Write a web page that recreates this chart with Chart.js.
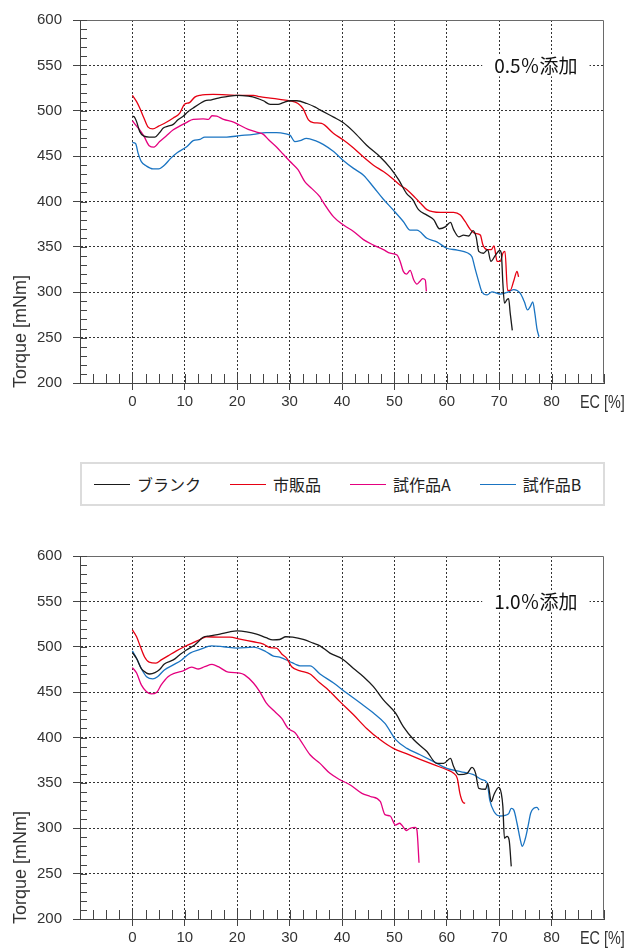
<!DOCTYPE html>
<html lang="ja">
<head>
<meta charset="utf-8">
<title>Torque vs EC</title>
<script src="https://cdn.jsdelivr.net/npm/chart.js@4.4.1/dist/chart.umd.min.js"></script>
<style>
html,body{margin:0;padding:0;background:#fff;}
body{width:628px;height:948px;position:relative;overflow:hidden;}
canvas{position:absolute;left:0;display:block;}
#c05{top:0;}
#c10{top:536px;}
#legend{position:absolute;left:80px;top:462px;width:525px;height:44px;box-sizing:border-box;
  border:2px solid #dcdcdc;display:flex;align-items:center;padding-left:12px;gap:29px;
  font-family:"Noto Sans CJK JP",sans-serif;font-size:16px;color:#222;}
.item{display:flex;align-items:center;white-space:nowrap;}
.swatch{width:36px;height:0;border-top:1.4px solid;margin-right:7px;}
</style>
</head>
<body>
<canvas id="c05" width="628" height="412"></canvas>
<div id="legend"></div>
<canvas id="c10" width="628" height="412"></canvas>
<script>
// Series names and colours
const seriesNames = ['ブランク', '市販品', '試作品A', '試作品B'];
const seriesColors = ['#1a1a1a', '#e60012', '#e4007f', '#1a74c2'];

// Axis settings
const xTicks = [0, 10, 20, 30, 40, 50, 60, 70, 80];
const yTicks = [200, 250, 300, 350, 400, 450, 500, 550, 600];

// 0.5% addition: [EC %, torque mNm]
const blank05 = [[0,494],[0.4,493],[0.8,488],[1.4,477],[2.2,472],[3.2,471],[4.3,471],[5.2,476],[5.9,481],[6.8,483],[7.8,485],[8.7,490],[9.7,494],[10.6,499],[11.6,503],[12.9,508],[13.8,511],[15.1,512],[16.4,514],[18,515.5],[20,517],[22.1,516],[23.7,514],[25,511],[26.3,507],[27.8,507],[28.8,509],[30.1,511],[31.4,511],[33.3,508],[34.9,504],[35.8,501],[38.4,493],[40.2,487],[42.2,477],[44.7,462],[47.3,449],[49.2,437],[50.8,424],[52.3,409],[53.5,402],[54.6,391],[56.2,385],[57.5,380],[58.6,370],[59.7,372],[60.7,377],[61.3,369],[62.3,361],[63.2,363],[64.2,362],[65,368],[65.6,361],[66.1,345],[67,343],[67.8,347],[68.4,334],[69.3,341],[70.1,346],[70.4,343],[70.7,310],[71,288],[71.5,292],[71.8,293],[72.1,277],[72.5,258]];
const market05 = [[0,517],[0.8,510],[1.4,503],[2.2,492],[3,482],[3.9,480],[5,483],[6.4,487],[7.8,492],[9,497],[9.9,507],[10.9,509],[11.9,515],[12.9,517],[15.4,518],[18,517.5],[20.5,517],[23.1,517],[24.3,515.5],[26.3,514],[28.1,512.5],[30.1,511],[31.6,508],[32.6,502],[33.6,490],[34.5,487],[36.1,486],[38.4,475],[40.2,468],[42.2,459],[44.1,449],[46,440],[47.9,433],[49.5,426],[51.1,418],[52.4,413],[54,404],[55,398],[56.2,391],[58.8,388],[61.3,388],[62.6,385],[63.5,378],[64.5,369],[65.4,365],[66.4,363],[66.9,352],[67.7,347],[68.5,347],[69,351],[69.6,334],[70.2,334],[70.7,343],[71.1,345],[71.6,302],[72.1,302],[72.8,313],[73.4,323],[73.7,317]];
const protoA05 = [[0,489],[0.8,483],[1.4,479],[2.2,472],[3.2,461.5],[4.1,460],[5.2,466],[6.4,472],[7.8,479],[9,483],[10.3,487],[11.6,490.5],[13.5,491],[14.5,490.5],[15.2,494.5],[16.1,494],[17.4,490.5],[19.3,487.5],[20.5,484],[22.1,479.5],[23.7,476.5],[25,474],[26,468],[27.5,460],[28.8,452],[30.1,444],[31.6,435],[32.9,422],[34.2,414.5],[35.8,405],[36.1,402],[38.4,383],[40.3,374],[42.2,367],[44.1,358],[46,352],[47.9,347],[49.2,343],[50.5,341],[51.1,334],[51.7,323],[52.3,320],[53,324],[53.7,313.5],[54.3,309],[54.8,311.5],[55.4,315],[55.9,313.5],[56.1,301]];
const protoB05 = [[0,465],[0.6,464],[1.1,453],[1.7,444],[2.7,439],[3.9,436],[5,436],[6.1,440],[7.3,447.5],[8.6,454],[10.3,460],[11.6,467],[12.9,468.5],[13.8,471],[15.4,471],[18,471],[20.5,472.5],[23.1,474],[25.5,475.8],[27.5,476],[29.3,474.5],[30.1,473],[31,466],[32,467],[33.2,469.5],[34.9,467],[36.4,463],[38.4,455],[40.3,445],[42.2,436.5],[44.1,429],[46,416],[47.9,402.5],[49.8,390.5],[51.7,378],[53,368.5],[54.3,368.5],[56.2,359.5],[58.1,355.5],[60,348.5],[62,346.5],[63.9,343.5],[64.8,339],[65.4,326],[66.1,311.5],[66.7,300.5],[67.7,297],[68.6,300.5],[70.2,298],[71.8,300.5],[72.8,303],[74,299],[74.8,289.5],[75.4,280.5],[76,285],[76.4,289.5],[76.8,277],[77.2,260],[77.6,251]];

// 1.0% addition: [EC %, torque mNm]
const blank10 = [[0,493.5],[0.8,487],[1.7,476],[2.7,471],[3.3,470],[4.3,471.5],[5.2,475],[6.1,481],[7.8,485.5],[9,491],[10.3,496.5],[11.9,502],[13.5,510.5],[14.8,512],[16.7,514],[18.6,516.5],[20,517.5],[21.8,516.5],[23.7,514],[25.5,510],[26.8,507.5],[28.1,508],[29.3,511],[30.6,510.5],[32.6,508],[34.5,504],[35.8,501],[37.7,493],[40.2,486],[42.2,476],[44.1,467],[46,456],[47.9,441.5],[50.2,427],[51.7,412],[53.7,397.5],[56.2,384.5],[58.1,371.5],[59.4,371.5],[60.7,377],[61.3,368],[62.3,359],[63.9,360.5],[64.8,367],[65.5,360.5],[66.1,344],[67.4,343],[67.8,349.5],[68.5,329.5],[69,337],[69.9,345],[70.4,338.5],[70.7,324],[71,289],[71.5,291],[71.9,287],[72.3,258]];
const market10 = [[0,518.5],[0.8,511],[1.4,502],[2.3,489],[3.2,483],[4.5,482],[5.5,485.5],[6.8,490],[8.4,495.5],[9.9,500],[11.6,504.5],[12.9,508],[14.1,511],[16.7,510.5],[18.6,510.5],[20.5,508.5],[23.1,505.5],[25,503],[26.3,499],[27.5,498.5],[28.5,492],[29.5,487],[30.4,478],[32,473.5],[33.9,470],[35.8,460],[37.1,454],[39.6,439.5],[42.2,425],[44.7,410],[47.3,397.5],[49.8,388],[52.4,382],[54.9,376],[57.5,370],[60,364.5],[61.3,360.5],[62,355],[62.5,338.5],[63.1,328.5],[63.5,327.5]];
const protoA10 = [[0,477],[0.8,471],[1.7,458],[2.7,450.5],[3.6,448],[4.6,449.5],[5.5,458],[6.8,467],[8.1,471],[9.7,473.5],[11.3,477.5],[12.6,475.5],[13.8,478],[15.2,480.5],[16.4,478],[18.3,472],[20.5,471],[21.4,469],[23.1,460],[24.3,450.5],[25.5,438.5],[26.8,430.5],[28.5,421],[29.7,410],[31,405.5],[32,397.5],[33.9,381],[35.8,371.5],[37.7,360.5],[39.6,353.5],[41.5,348],[43.8,338.5],[45.4,335],[47.3,329.5],[48.2,315],[49.2,313.5],[50.2,303.5],[51,305.5],[51.4,303.5],[52.3,297.5],[53,300],[54,301],[54.3,298],[54.7,262]];
const protoB10 = [[0,495.5],[0.8,487],[1.7,476],[2.7,467],[3.9,464.5],[4.8,467],[6.1,474.5],[7.8,480],[9.4,485.5],[11,493],[12.9,497],[15.1,501],[17.4,500],[20,498.5],[23.1,499.5],[25.5,494.5],[26.8,490],[28.1,488.5],[30.1,483.5],[31,481],[32,479],[33.9,479],[35.8,470],[38.4,460],[40.9,449],[43.5,438],[46,427],[48.2,415.5],[50.2,398],[52.4,388],[54.9,381],[57.5,373.5],[60,366],[62.6,362.5],[65.1,359],[66.7,353.5],[67.7,350],[68.2,331],[69,318.5],[70.2,313.5],[71.8,316],[72.3,322],[72.8,320],[73.4,305.5],[74.1,285.5],[74.4,280],[75,289],[75.5,302],[76,316.5],[76.6,322],[77.2,323],[77.6,320]];

const X_MIN = -10, X_MAX = 90, Y_MIN = 200, Y_MAX = 600;
const tickFont = {family: '"Liberation Sans", Arial, sans-serif', size: 15};
const titleFont = '18px "Liberation Sans", Arial, sans-serif';
const noteFont = '19px "Noto Sans CJK JP", sans-serif';

// Frame, inner minor ticks, axis titles and the panel note
const decorPlugin = {
  id: 'decor',
  afterDatasetsDraw(chart, args, opts) {
    const {ctx, chartArea: a, scales: {x, y}} = chart;
    const L = Math.round(a.left) + 0.5, R = Math.round(a.right) - 0.5;
    const T = Math.round(a.top) + 0.5, B = Math.round(a.bottom) - 0.5;
    ctx.save();
    // top and right border
    ctx.strokeStyle = '#6a6a6a';
    ctx.lineWidth = 1;
    ctx.beginPath();
    ctx.moveTo(L, T); ctx.lineTo(R, T); ctx.lineTo(R, B);
    ctx.stroke();
    // minor ticks pointing inward
    ctx.strokeStyle = '#444';
    ctx.beginPath();
    for (let v = Y_MIN; v <= Y_MAX; v += 10) {
      const py = Math.round(y.getPixelForValue(v)) + 0.5;
      ctx.moveTo(a.left, py); ctx.lineTo(a.left + 7, py);
    }
    for (let v = X_MIN; v <= X_MAX; v += 2.5) {
      const px = Math.round(x.getPixelForValue(v)) + 0.5;
      ctx.moveTo(px, a.bottom); ctx.lineTo(px, a.bottom - 9);
    }
    ctx.stroke();
    // axis titles (the x title is set slightly condensed)
    ctx.fillStyle = '#333';
    ctx.font = titleFont;
    ctx.textBaseline = 'middle';
    ctx.textAlign = 'left';
    ctx.save();
    ctx.translate(a.right - 24, a.bottom + 20);
    ctx.scale(0.8, 1);
    ctx.fillText('EC [%]', 0, 0);
    ctx.restore();
    ctx.save();
    ctx.translate(21, a.bottom + 5);
    ctx.rotate(-Math.PI / 2);
    ctx.fillText('Torque [mNm]', 0, 0);
    ctx.restore();
    // panel note on the 550 gridline
    const nx = x.getPixelForValue(opts.noteX);
    const ny = y.getPixelForValue(opts.noteY);
    ctx.font = noteFont;
    ctx.textAlign = 'center';
    const w = ctx.measureText(opts.note).width;
    ctx.fillStyle = '#fff';
    ctx.fillRect(nx - w / 2 - 12, ny - 11, w + 24, 22);
    ctx.fillStyle = '#111';
    ctx.fillText(opts.note, nx, ny);
    ctx.restore();
  }
};

function makeChart(id, series, note) {
  const datasets = series.map((s, i) => ({
    label: seriesNames[i],
    data: s.map(p => ({x: p[0], y: p[1]})),
    borderColor: seriesColors[i],
    borderWidth: 1.3,
    pointRadius: 0,
    fill: false,
    cubicInterpolationMode: 'monotone'
  }));
  return new Chart(document.getElementById(id), {
    type: 'line',
    data: {datasets},
    plugins: [decorPlugin],
    options: {
      responsive: false,
      animation: false,
      devicePixelRatio: 1,
      layout: {padding: {top: 20, right: 24, left: 0, bottom: 0}},
      plugins: {
        legend: {display: false},
        tooltip: {enabled: false},
        decor: {note, noteX: 77, noteY: 550}
      },
      scales: {
        x: {
          type: 'linear', min: X_MIN, max: X_MAX,
          afterBuildTicks: s => { s.ticks = [X_MIN].concat(xTicks, [X_MAX]).map(v => ({value: v})); },
          afterFit: s => { s.height = 29; },
          ticks: {
            callback: v => xTicks.includes(v) ? String(v) : '',
            color: '#333', font: tickFont, padding: 3, maxRotation: 0, autoSkip: false
          },
          grid: {
            color: c => xTicks.includes(c.tick && c.tick.value) ? '#333' : 'rgba(0,0,0,0)',
            tickColor: c => xTicks.includes(c.tick && c.tick.value) ? '#444' : 'rgba(0,0,0,0)',
            tickLength: 7, lineWidth: 1
          },
          border: {color: '#444', width: 1, dash: [2, 2]}
        },
        y: {
          type: 'linear', min: Y_MIN, max: Y_MAX,
          afterBuildTicks: s => { s.ticks = yTicks.map(v => ({value: v})); },
          afterFit: s => { s.width = 80; },
          ticks: {color: '#333', font: tickFont, padding: 11, autoSkip: false},
          grid: {
            color: c => (c.tick && c.tick.value > Y_MIN && c.tick.value < Y_MAX) ? '#333' : 'rgba(0,0,0,0)',
            tickColor: '#444',
            tickLength: 7, lineWidth: 1
          },
          border: {color: '#444', width: 1, dash: [2, 2]}
        }
      }
    }
  });
}

makeChart('c05', [blank05, market05, protoA05, protoB05], '0.5％添加');
makeChart('c10', [blank10, market10, protoA10, protoB10], '1.0％添加');

// Legend shared by both panels
const legend = document.getElementById('legend');
seriesNames.forEach((name, i) => {
  const item = document.createElement('div');
  item.className = 'item';
  const sw = document.createElement('span');
  sw.className = 'swatch';
  sw.style.borderTopColor = seriesColors[i];
  const tx = document.createElement('span');
  tx.textContent = name;
  item.appendChild(sw);
  item.appendChild(tx);
  legend.appendChild(item);
});
</script>
</body>
</html>
